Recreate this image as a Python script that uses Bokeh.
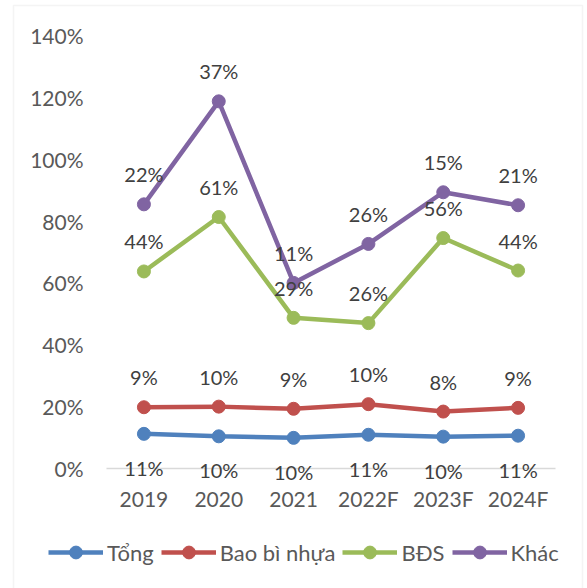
from bokeh.plotting import figure
from bokeh.models import (Range1d, FixedTicker, Legend, LegendItem,
                          ColumnDataSource, LabelSet, PrintfTickFormatter, BoxAnnotation)
from bokeh.core.properties import value
from bokeh.embed import file_html
from bokeh.resources import INLINE

years = ["2019", "2020", "2021", "2022F", "2023F", "2024F"]
tong = [11.2, 10.4, 9.9, 10.9, 10.3, 10.6]
bao_bi = [8.6, 9.6, 9.4, 9.9, 8.1, 9.0]
bds = [43.9, 61.3, 29.4, 26.2, 56.1, 44.4]
khac = [21.7, 37.4, 11.3, 25.6, 14.8, 21.1]
y_ticks = [0, 20, 40, 60, 80, 100, 120, 140]

series = [("Tổng", tong, "#4F81BD", -34),
          ("Bao bì nhựa", bao_bi, "#C0504D", 30),
          ("BĐS", bds, "#9BBB59", 30),
          ("Khác", khac, "#8064A2", 30)]

FONT = "Lato"
xs = [i + 0.5 for i in range(len(years))]

p = figure(width=587, height=588, output_backend="svg", toolbar_location=None,
           x_range=Range1d(-1.4165, 6.4276), y_range=Range1d(-38.8, 151.3),
           min_border=0)
p.outline_line_color = None
p.xgrid.grid_line_color = None
p.ygrid.grid_line_color = None

# outer chart border (screen y measured from the bottom of the canvas)
p.add_layout(BoxAnnotation(left=13, right=582, top=583, bottom=-20,
                           left_units="screen", right_units="screen",
                           top_units="screen", bottom_units="screen",
                           fill_alpha=0, line_color="#d9d9d9", line_width=1.5))

p.yaxis.fixed_location = 0
p.yaxis.ticker = FixedTicker(ticks=y_ticks)
p.yaxis.formatter = PrintfTickFormatter(format="%d%%")
p.yaxis.axis_line_color = None
p.yaxis.major_tick_line_color = None
p.yaxis.minor_tick_line_color = None
p.yaxis.major_label_standoff = 17

p.xaxis.fixed_location = 0
p.xaxis.bounds = (0, len(years))
p.xaxis.ticker = FixedTicker(ticks=xs)
p.xaxis.major_label_overrides = {x: y for x, y in zip(xs, years)}
p.xaxis.axis_line_color = "#d9d9d9"
p.xaxis.axis_line_width = 1.5
p.xaxis.major_tick_line_color = None
p.xaxis.minor_tick_line_color = None
p.xaxis.major_label_standoff = 12
for ax in (p.xaxis, p.yaxis):
    ax.major_label_text_font = FONT
    ax.major_label_text_font_size = "21px"
    ax.major_label_text_color = "#595959"

items = []
cum = [0.0] * len(years)
for name, vals, color, off in series:
    cum = [c + v for c, v in zip(cum, vals)]
    src = ColumnDataSource(dict(x=xs, y=cum, lab=[f"{round(v)}%" for v in vals]))
    r1 = p.line("x", "y", source=src, line_color=color, line_width=4.5)
    r2 = p.scatter("x", "y", source=src, size=13, fill_color=color, line_color=color)
    items.append(LegendItem(label=name, renderers=[r1, r2]))
    p.add_layout(LabelSet(x="x", y="y", text="lab", source=src, y_offset=off,
                          text_align="center", text_baseline="middle",
                          text_font=value(FONT), text_font_size="20px", text_color="#404040"))

legend = Legend(items=items, orientation="horizontal", location=(48, 20),
                border_line_color=None, background_fill_alpha=0,
                label_text_font=FONT, label_text_font_size="22px", label_text_color="#595959",
                glyph_width=55, glyph_height=32, label_standoff=4, spacing=7,
                padding=0, margin=0)
p.add_layout(legend)

open("out.html", "w").write(file_html(p, INLINE))
